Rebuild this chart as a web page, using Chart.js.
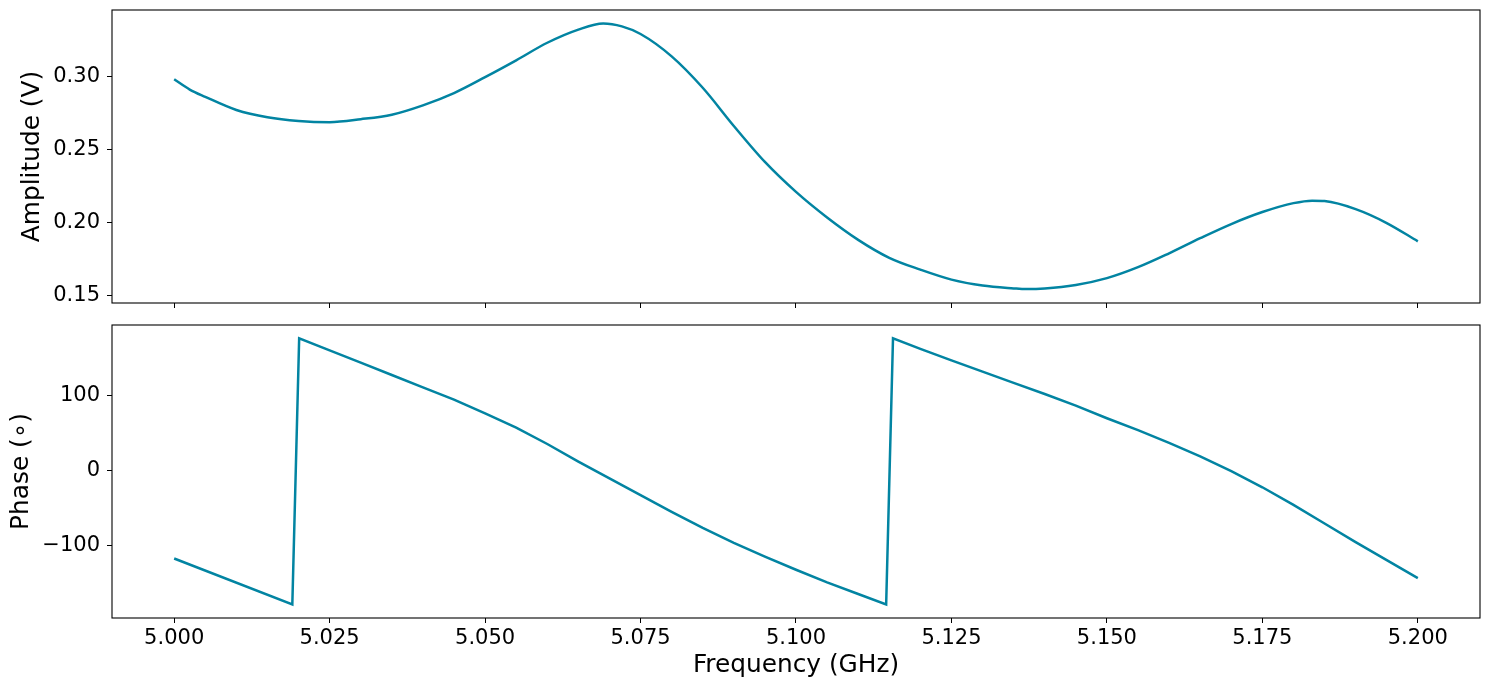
<!DOCTYPE html>
<html>
<head>
<meta charset="utf-8">
<script src="https://cdn.jsdelivr.net/npm/chart.js@4"></script>
<style>
body { margin: 0; background: #fff; }
#wrap { position: relative; width: 1489px; height: 690px; }
#ampCanvas { position: absolute; left: 0; top: 0; }
#phaseCanvas { position: absolute; left: 0; top: 315px; }
</style>
</head>
<body>
<div id="wrap">
  <canvas id="ampCanvas" width="1489" height="315"></canvas>
  <canvas id="phaseCanvas" width="1489" height="375"></canvas>
</div>
<script>
// values
const ampFreq = [5.000, 5.0025, 5.005, 5.010, 5.015, 5.020, 5.025, 5.030, 5.035, 5.040, 5.045,
  5.050, 5.055, 5.060, 5.065, 5.069, 5.072, 5.075, 5.080, 5.085, 5.090, 5.095, 5.100, 5.105,
  5.110, 5.115, 5.120, 5.125, 5.130, 5.135, 5.137, 5.140, 5.145, 5.150, 5.155, 5.160, 5.165,
  5.170, 5.175, 5.180, 5.183, 5.185, 5.190, 5.195, 5.200];
const ampVolts = [0.298, 0.291, 0.286, 0.277, 0.272, 0.2695, 0.2687, 0.2707, 0.2738, 0.2802, 0.2886,
  0.2995, 0.3110, 0.3230, 0.3320, 0.3362, 0.3342, 0.3290, 0.3137, 0.2922, 0.2661, 0.2415, 0.2210, 0.2035,
  0.1882, 0.1759, 0.1678, 0.1610, 0.1569, 0.1550, 0.1545, 0.1549, 0.1573, 0.1620, 0.1695, 0.1790, 0.1893,
  0.1990, 0.2072, 0.2133, 0.2150, 0.2147, 0.2092, 0.1997, 0.1872];

const phaseFreq = [5.000, 5.019, 5.0201, 5.025, 5.030, 5.035, 5.040, 5.045, 5.050, 5.055, 5.060,
  5.065, 5.070, 5.075, 5.080, 5.085, 5.090, 5.095, 5.100, 5.105, 5.110, 5.1145,
  5.1156, 5.120, 5.125, 5.130, 5.135, 5.140, 5.145, 5.150, 5.155, 5.160, 5.165,
  5.170, 5.175, 5.180, 5.185, 5.190, 5.195, 5.200];
const phaseDeg = [-118, -179.5, 177.2, 161, 144.5, 128, 111.5, 95, 76.5, 57.5, 35.5,
  12, -10.5, -33, -55.5, -77, -97, -115.5, -133, -150, -165.5, -179.5,
  177.2, 163, 147.5, 132.5, 117.5, 102.5, 87, 70, 54, 37, 19,
  -1, -22.5, -46, -71, -96, -120.2, -144.2];

const freqTicks = [5.000, 5.025, 5.050, 5.075, 5.100, 5.125, 5.150, 5.175, 5.200];
const ampTicks = [0.15, 0.20, 0.25, 0.30];
const phaseTicks = [-100, 0, 100];

const lineColor = '#0284a2';
const tickFont = { family: 'DejaVu Sans', size: 21 };
const titleFont = { family: 'DejaVu Sans', size: 24.8 };

Chart.defaults.font.family = 'DejaVu Sans';
Chart.defaults.color = '#000';

// matplotlib style frame round the plot area
const frameBox = {
    id: 'frameBox',
    afterDraw(chart) {
        const { ctx, chartArea } = chart;
        ctx.save();
        ctx.strokeStyle = '#000';
        ctx.lineWidth = 1.1;
        ctx.strokeRect(chartArea.left, chartArea.top, chartArea.right - chartArea.left, chartArea.bottom - chartArea.top);
        ctx.restore();
    }
};

function pairs(xs, ys) {
    return xs.map((x, i) => ({ x, y: ys[i] }));
}

function setTicks(list) {
    return (scale) => { scale.ticks = list.map(v => ({ value: v })); };
}

// no extra room for label overflow, the plot box is fixed
function noPad(s) {
    s.paddingTop = 0; s.paddingBottom = 0; s.paddingLeft = 0; s.paddingRight = 0;
}

const gridStyle = { display: true, drawOnChartArea: false, drawTicks: true, tickLength: 5, color: '#000', lineWidth: 1 };

function makePanel(canvas, data, smooth, yTicks, yMin, yMax, yLabel, yFmt, yTitlePad, showX, xAxisHeight) {
    return new Chart(canvas.getContext('2d'), {
        type: 'line',
        data: {
            datasets: [{
                data,
                borderColor: lineColor,
                borderWidth: 2.5,
                pointRadius: 0,
                fill: false,
                tension: 0,
                cubicInterpolationMode: smooth ? 'monotone' : 'default'
            }]
        },
        options: {
            responsive: false,
            animation: false,
            layout: { padding: { top: 10, right: 9, left: 0, bottom: 0 } },
            plugins: { legend: { display: false }, tooltip: { enabled: false } },
            scales: {
                x: {
                    type: 'linear',
                    min: 4.99,
                    max: 5.21,
                    afterBuildTicks: setTicks(freqTicks),
                    afterFit: (s) => { s.height = xAxisHeight; noPad(s); },
                    grid: gridStyle,
                    border: { display: false },
                    ticks: {
                        display: showX,
                        font: tickFont,
                        color: '#000',
                        padding: 3,
                        maxRotation: 0,
                        autoSkip: false,
                        callback: (v) => v.toFixed(3)
                    },
                    title: {
                        display: showX,
                        text: 'Frequency (GHz)',
                        font: titleFont,
                        color: '#000',
                        padding: { top: 0, bottom: 10 }
                    }
                },
                y: {
                    type: 'linear',
                    min: yMin,
                    max: yMax,
                    afterBuildTicks: setTicks(yTicks),
                    afterFit: (s) => { s.width = 112; noPad(s); },
                    grid: gridStyle,
                    border: { display: false },
                    ticks: {
                        font: tickFont,
                        color: '#000',
                        padding: 7,
                        autoSkip: false,
                        callback: yFmt
                    },
                    title: {
                        display: true,
                        text: yLabel,
                        font: titleFont,
                        color: '#000',
                        padding: { top: yTitlePad, bottom: 0 }
                    }
                }
            }
        },
        plugins: [frameBox]
    });
}

makePanel(document.getElementById('ampCanvas'), pairs(ampFreq, ampVolts), true, ampTicks,
    0.1450, 0.3454, 'Amplitude (V)', (v) => v.toFixed(2), 18, false, 12);

makePanel(document.getElementById('phaseCanvas'), pairs(phaseFreq, phaseDeg), false, phaseTicks,
    -197.7, 195, 'Phase (\u2218)', (v) => (v < 0 ? '\u2212' + Math.abs(v) : String(v)), 7, true, 72);
</script>
</body>
</html>
